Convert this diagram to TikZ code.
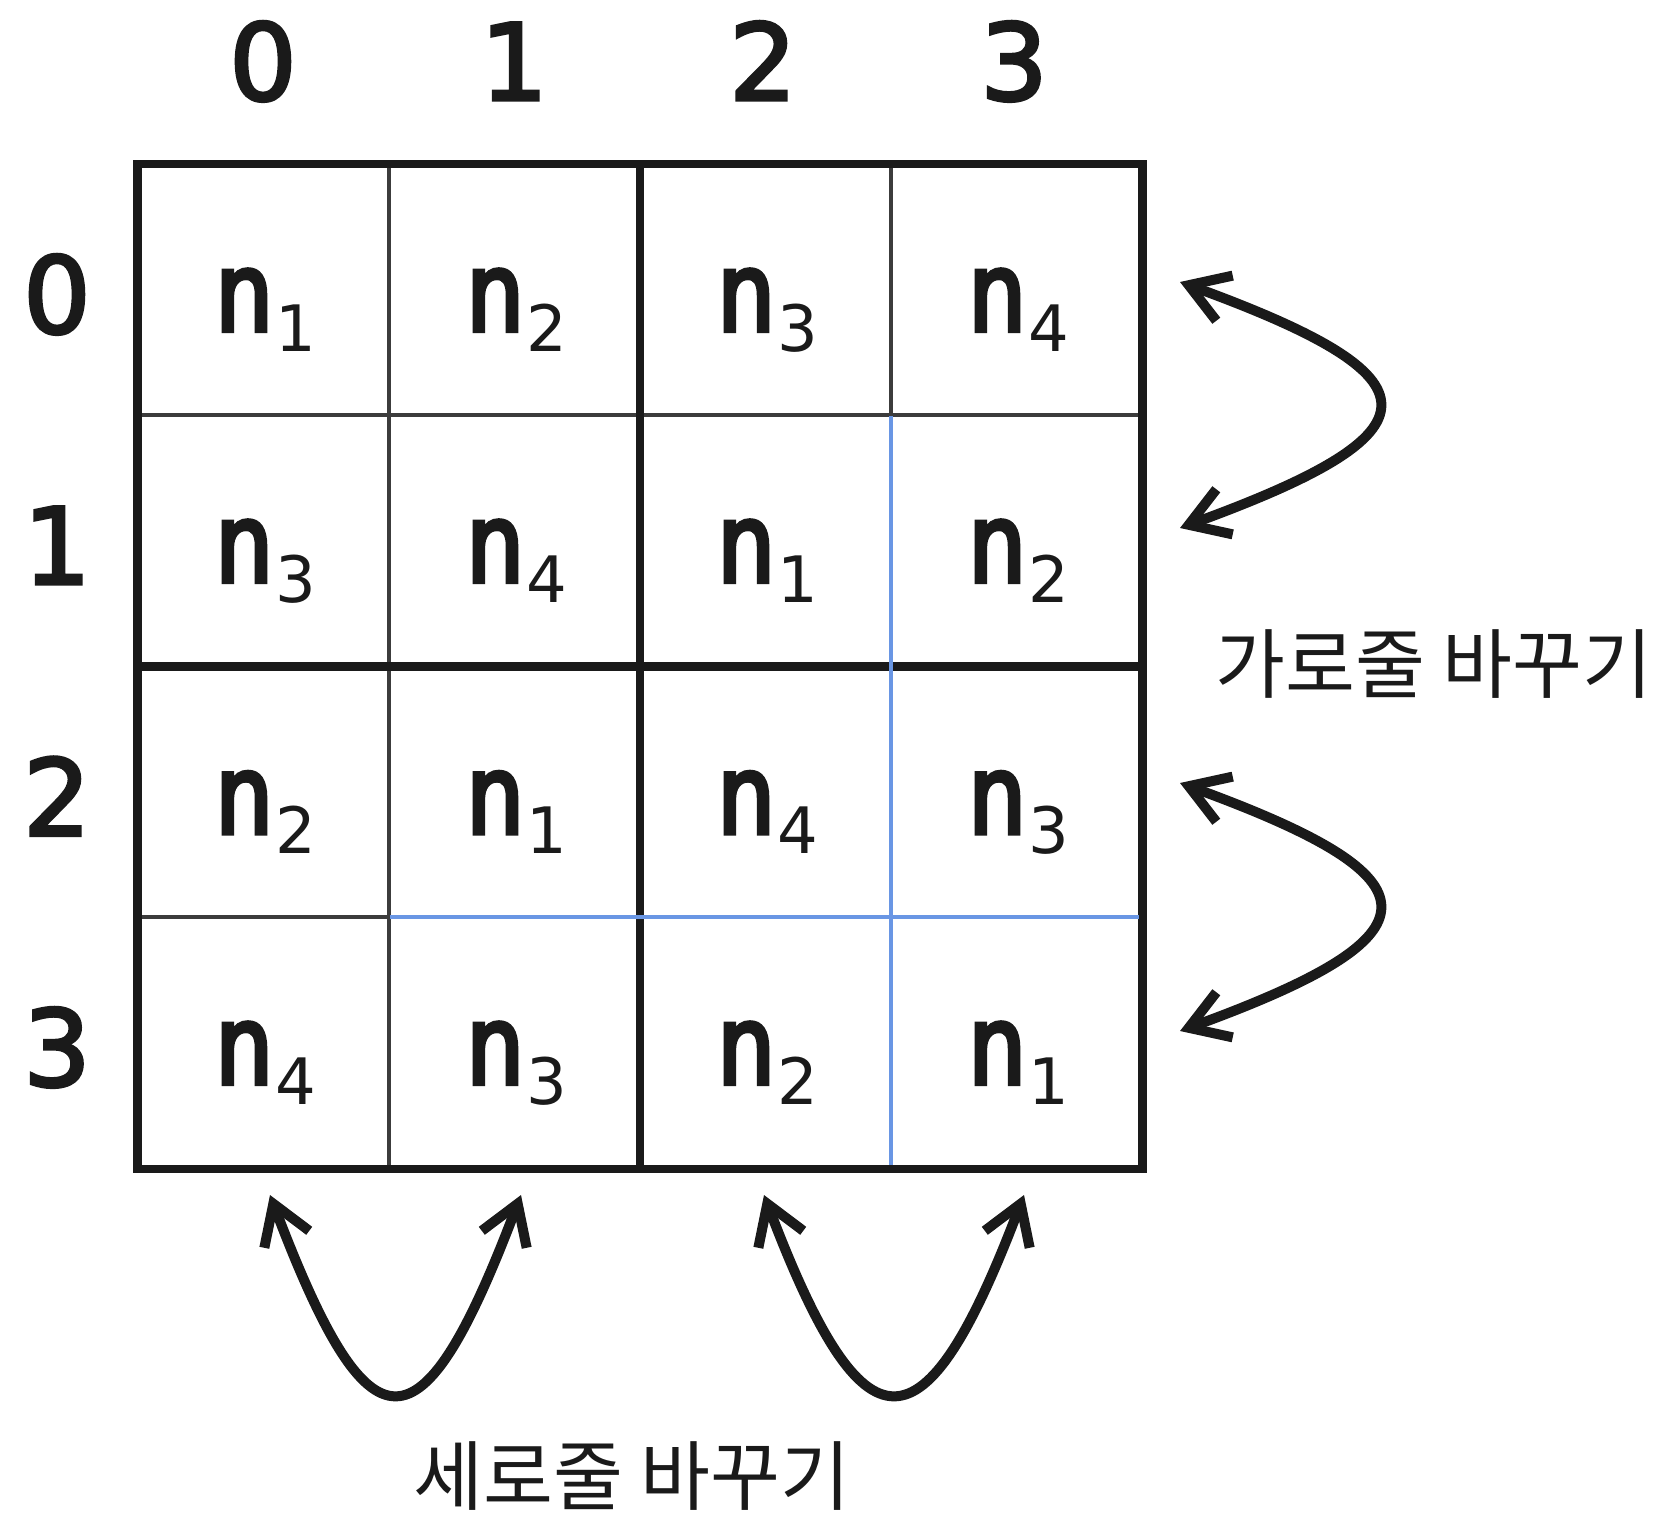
\documentclass[tikz,border=0pt]{standalone}
\usepackage{fontspec}
\setmainfont{DejaVu Sans}
\newfontfamily\nfont[FakeBold=4,FakeStretch=0.82]{DejaVu Sans}
\newfontfamily\idxfont[FakeBold=3]{DejaVu Sans}
\newfontfamily\krfont{Noto Sans CJK KR}
\usetikzlibrary{arrows.meta}
\definecolor{gridblue}{RGB}{105,150,228}
\definecolor{ink}{RGB}{26,26,26}
\newcommand{\nsub}[1]{{\nfont\fontsize{55}{55}\selectfont n}\kern1.5pt\raisebox{-10pt}{\fontsize{32}{32}\selectfont #1}}
\begin{document}
\begin{tikzpicture}[x=0.5pt,y=-0.5pt,
  thickline/.style={line width=4.25pt, draw=ink, line cap=rect},
  thinline/.style={line width=1.6pt, draw=ink!85},
  blueline/.style={line width=1.6pt, draw=gridblue},
  cellnum/.style={anchor=base, inner sep=0pt, text=ink},
  idx/.style={anchor=base, inner sep=0pt, font=\idxfont\fontsize{53}{53}\selectfont, text=ink},
  lab/.style={inner sep=0pt, font=\krfont\fontsize{38}{38}\selectfont, text=ink},
  swaparrow/.style={line width=5pt, draw=ink,
    {Straight Barb[length=19pt,width=24pt]}-{Straight Barb[length=19pt,width=24pt]}}
]
\useasboundingbox (0,0) rectangle (1659,1514);
\fill[white] (0,0) rectangle (1659,1514);

% grid coordinates
\coordinate (g00) at (137.5,164);
\coordinate (g44) at (1142.7,1169);

% thin lines
\draw[thinline] (389,164) -- (389,1169);
\draw[thinline] (891,164) -- (891,415);
\draw[thinline] (137.5,415) -- (1142.7,415);
\draw[thinline] (137.5,917) -- (389,917);

% thick lines
\draw[thickline] (g00) rectangle (g44);
\draw[thickline] (640,164) -- (640,1169);
\draw[thickline] (137.5,666.5) -- (1142.7,666.5);

% blue lines
\draw[blueline] (891,416) -- (891,1165);
\draw[blueline] (390,917) -- (1139,917);

% column indices
\node[idx] (k0) at (263,100) {0};
\node[idx] (k1) at (514,100) {1};
\node[idx] (k2) at (763,100) {2};
\node[idx] (k3) at (1014,100) {3};

% row indices
\node[idx] (r0) at (57,333) {0};
\node[idx] (r1) at (57,584) {1};
\node[idx] (r2) at (57,835.5) {2};
\node[idx] (r3) at (57,1086) {3};

% cells
\node[cellnum] (c00) at (266,331) {\nsub{1}};
\node[cellnum] (c01) at (517,331) {\nsub{2}};
\node[cellnum] (c02) at (768,331) {\nsub{3}};
\node[cellnum] (c03) at (1019,331) {\nsub{4}};

\node[cellnum] (c10) at (266,582) {\nsub{3}};
\node[cellnum] (c11) at (517,582) {\nsub{4}};
\node[cellnum] (c12) at (768,582) {\nsub{1}};
\node[cellnum] (c13) at (1019,582) {\nsub{2}};

\node[cellnum] (c20) at (266,833.5) {\nsub{2}};
\node[cellnum] (c21) at (517,833.5) {\nsub{1}};
\node[cellnum] (c22) at (768,833.5) {\nsub{4}};
\node[cellnum] (c23) at (1019,833.5) {\nsub{3}};

\node[cellnum] (c30) at (266,1084) {\nsub{4}};
\node[cellnum] (c31) at (517,1084) {\nsub{3}};
\node[cellnum] (c32) at (768,1084) {\nsub{2}};
\node[cellnum] (c33) at (1019,1084) {\nsub{1}};

% labels
\node[lab] (rowlab) at (1434,664) {가로줄 바꾸기};
\node[lab] (collab) at (632,1476) {세로줄 바꾸기};

% arrow end points
\coordinate (ra1) at (1180,282);
\coordinate (rb1) at (1180,528);
\coordinate (ra2) at (1180,783);
\coordinate (rb2) at (1180,1031);
\coordinate (ba1) at (270,1195);
\coordinate (bb1) at (521,1195);
\coordinate (ba2) at (764,1195);
\coordinate (bb2) at (1024,1195);

% swap arrows
\draw[swaparrow] (ra1) .. controls (1444,378) and (1444,432) .. (rb1);
\draw[swaparrow] (ra2) .. controls (1444,879) and (1444,935) .. (rb2);
\draw[swaparrow] (ba1) .. controls (370,1459) and (421,1459) .. (bb1);
\draw[swaparrow] (ba2) .. controls (864,1459) and (924,1459) .. (bb2);
\end{tikzpicture}
\end{document}
